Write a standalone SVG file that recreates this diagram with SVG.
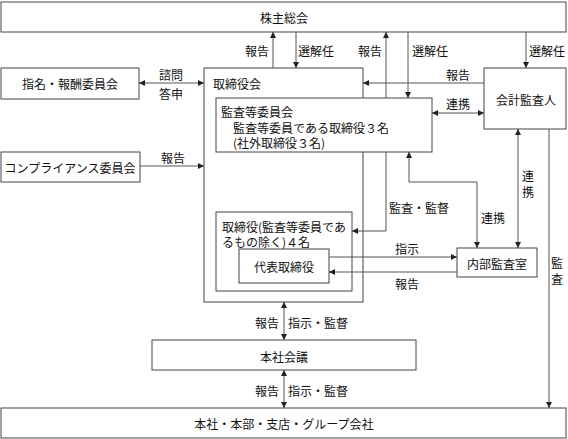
<svg xmlns="http://www.w3.org/2000/svg" width="568" height="439" viewBox="0 0 568 439">
<style>
.box{fill:#fff;stroke:#444;stroke-width:1}
.ln{fill:none;stroke:#555;stroke-width:1}
text{font-family:"Noto Sans CJK JP","Noto Sans",sans-serif;font-size:12px;fill:#111;dominant-baseline:central}
.c{text-anchor:middle}
</style>
<defs>
<marker id="ah" viewBox="0 0 10 10" refX="10" refY="5" markerWidth="6" markerHeight="6" orient="auto-start-reverse" markerUnits="userSpaceOnUse">
<path d="M0,0 L10,5 L0,10 z" fill="#222"/>
</marker>
</defs>
<rect width="568" height="439" fill="#fff"/>
<g id="n-shareholders"><rect class="box" x="1" y="2" width="565" height="30"/><text class="c" x="284" y="17">株主総会</text></g>
<g id="n-nomination"><rect class="box" x="1" y="68" width="138" height="31"/><text class="c" x="70" y="83">指名・報酬委員会</text></g>
<g id="n-compliance"><rect class="box" x="1" y="152" width="139" height="30"/><text class="c" x="70" y="167">コンプライアンス委員会</text></g>
<g id="n-board"><rect class="box" x="204" y="68" width="159" height="234"/><text x="213" y="83">取締役会</text></g>
<g id="n-audit-committee"><rect class="box" x="216" y="98" width="216" height="54"/><text x="221" y="111">監査等委員会<tspan x="233" y="127">監査等委員である取締役３名</tspan><tspan x="233" y="142">(社外取締役３名)</tspan></text></g>
<g id="n-directors"><rect class="box" x="216" y="212" width="136" height="79"/><text x="222" y="226">取締役(監査等委員であ<tspan x="222" y="241">るもの除く)４名</tspan></text></g>
<g id="n-representative"><rect class="box" x="239" y="249" width="90" height="34"/><text class="c" x="284" y="266">代表取締役</text></g>
<g id="n-accounting-auditor"><rect class="box" x="484" y="68" width="82" height="61"/><text class="c" x="526" y="99">会計監査人</text></g>
<g id="n-internal-audit"><rect class="box" x="457" y="248" width="80" height="29"/><text class="c" x="497" y="263">内部監査室</text></g>
<g id="n-hq-meeting"><rect class="box" x="152" y="340" width="264" height="30"/><text class="c" x="284" y="356">本社会議</text></g>
<g id="n-group"><rect class="box" x="1" y="408" width="565" height="30"/><text class="c" x="284" y="423">本社・本部・支店・グループ会社</text></g>
<g id="connectors">
<line class="ln" x1="273" y1="68" x2="273" y2="32" marker-end="url(#ah)"/>
<line class="ln" x1="296" y1="32" x2="296" y2="68" marker-end="url(#ah)"/>
<line class="ln" x1="386" y1="98" x2="386" y2="32" marker-end="url(#ah)"/>
<line class="ln" x1="408" y1="32" x2="408" y2="98" marker-end="url(#ah)"/>
<line class="ln" x1="526" y1="32" x2="526" y2="68" marker-end="url(#ah)"/>
<line class="ln" x1="484" y1="83" x2="363" y2="83" marker-end="url(#ah)"/>
<line class="ln" x1="432" y1="113" x2="484" y2="113" marker-start="url(#ah)" marker-end="url(#ah)"/>
<line class="ln" x1="139" y1="83" x2="204" y2="83" marker-start="url(#ah)" marker-end="url(#ah)"/>
<line class="ln" x1="140" y1="166" x2="204" y2="166" marker-end="url(#ah)"/>
<path class="ln" d="M386 152 V231 H352" marker-end="url(#ah)"/>
<path class="ln" d="M409 152 V182 H477 V248" marker-start="url(#ah)" marker-end="url(#ah)"/>
<line class="ln" x1="518" y1="129" x2="518" y2="248" marker-start="url(#ah)" marker-end="url(#ah)"/>
<line class="ln" x1="549" y1="129" x2="549" y2="408" marker-end="url(#ah)"/>
<line class="ln" x1="329" y1="257" x2="457" y2="257" marker-end="url(#ah)"/>
<line class="ln" x1="457" y1="272" x2="329" y2="272" marker-end="url(#ah)"/>
<line class="ln" x1="284" y1="302" x2="284" y2="340" marker-start="url(#ah)" marker-end="url(#ah)"/>
<line class="ln" x1="284" y1="370" x2="284" y2="408" marker-start="url(#ah)" marker-end="url(#ah)"/>
<text class="c" x="257" y="50">報告</text>
<text class="c" x="316" y="50">選解任</text>
<text class="c" x="370" y="50">報告</text>
<text class="c" x="430" y="50">選解任</text>
<text class="c" x="547" y="50">選解任</text>
<text class="c" x="171" y="74">諮問</text>
<text class="c" x="171" y="93">答申</text>
<text class="c" x="173" y="157">報告</text>
<text class="c" x="458" y="74">報告</text>
<text class="c" x="458" y="103">連携</text>
<text class="c" x="419" y="207">監査・監督</text>
<text class="c" x="493" y="217">連携</text>
<text class="c" x="528" y="175">連</text>
<text class="c" x="528" y="191">携</text>
<text class="c" x="557" y="262">監</text>
<text class="c" x="557" y="278">査</text>
<text class="c" x="407" y="248">指示</text>
<text class="c" x="407" y="283">報告</text>
<text class="c" x="267" y="322">報告</text>
<text class="c" x="318" y="322">指示・監督</text>
<text class="c" x="267" y="390">報告</text>
<text class="c" x="318" y="390">指示・監督</text>
</g>
</svg>
